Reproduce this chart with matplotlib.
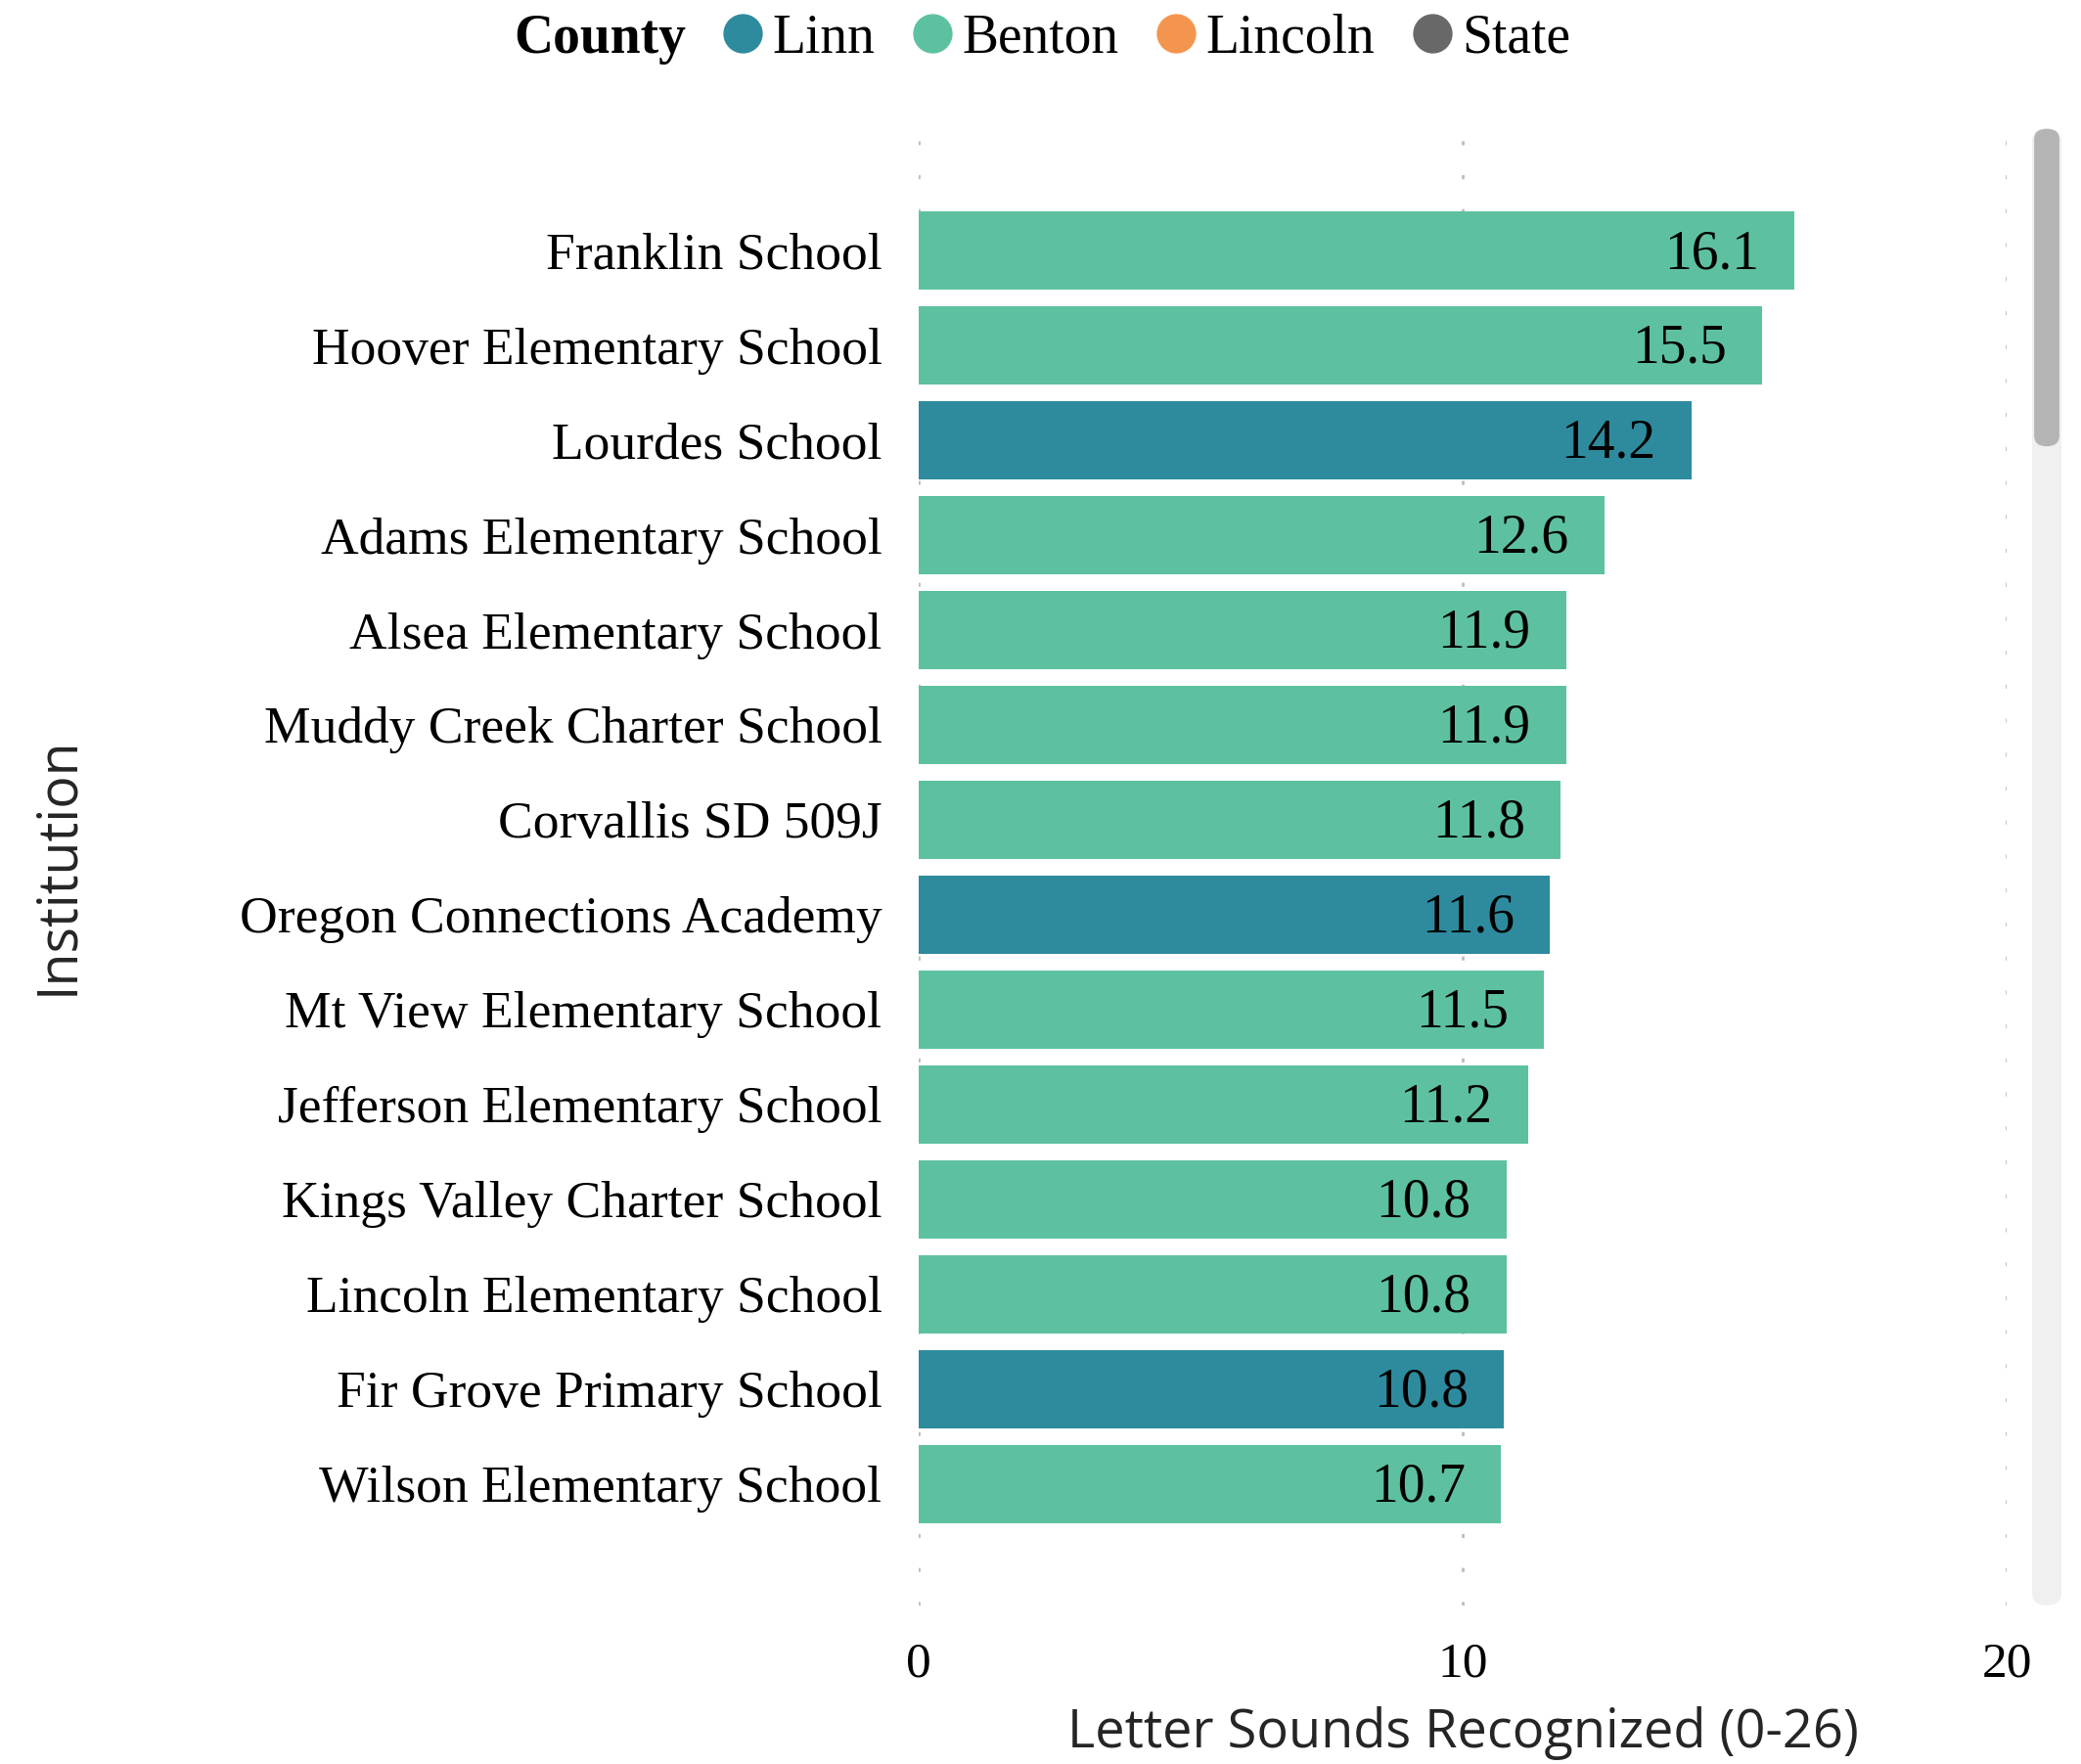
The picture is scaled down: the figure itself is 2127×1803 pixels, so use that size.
import matplotlib
matplotlib.use("Agg")
import matplotlib.pyplot as plt
from matplotlib.lines import Line2D
from matplotlib.patches import FancyBboxPatch

# Data
schools = [
    "Franklin School", "Hoover Elementary School", "Lourdes School",
    "Adams Elementary School", "Alsea Elementary School",
    "Muddy Creek Charter School", "Corvallis SD 509J",
    "Oregon Connections Academy", "Mt View Elementary School",
    "Jefferson Elementary School", "Kings Valley Charter School",
    "Lincoln Elementary School", "Fir Grove Primary School",
    "Wilson Elementary School",
]
scores = [16.1, 15.5, 14.2, 12.6, 11.9, 11.9, 11.8, 11.6, 11.5, 11.2,
          10.8, 10.8, 10.75, 10.7]
county = ["Benton", "Benton", "Linn", "Benton", "Benton", "Benton", "Benton",
          "Linn", "Benton", "Benton", "Benton", "Benton", "Linn", "Benton"]

legend_counties = ["Linn", "Benton", "Lincoln", "State"]
county_colors = {"Linn": "#2E8B9E", "Benton": "#5DC1A1",
                 "Lincoln": "#F4954F", "State": "#686868"}
x_ticks = [0, 10, 20]

SERIF = "Liberation Serif"
SANS = "Open Sans"

fig = plt.figure(figsize=(21.27, 18.03), dpi=100)
ax = fig.add_axes([0.4415, 0.0899, 0.5228, 0.8385])

y_pos = list(range(len(schools)))
colors = [county_colors[c] for c in county]
ax.barh(y_pos, scores, height=0.82, color=colors, zorder=2)

for y, v in zip(y_pos, scores):
    ax.text(v - 0.65, y + 0.04, f"{v:.1f}", ha="right", va="center",
            fontsize=40, family=SERIF, color="black", zorder=3)

ax.set_ylim(len(schools) - 1 + 1.28, -1.31)
ax.set_xlim(0, 20)
ax.set_yticks(y_pos)
ax.set_yticklabels(schools, fontsize=38.5, family=SERIF)
ax.set_xticks(x_ticks)
ax.set_xticklabels([str(t) for t in x_ticks], fontsize=37, family=SERIF)
ax.tick_params(axis="both", length=0)
ax.tick_params(axis="y", pad=27)
ax.tick_params(axis="x", pad=27)

for t in x_ticks:
    ax.axvline(t, color="#BDBDBD", linewidth=2, linestyle=(0, (1.5, 11)),
               zorder=1)

for s in ax.spines.values():
    s.set_visible(False)

ax.set_xlabel("Letter Sounds Recognized (0-26)", fontsize=39, family=SANS,
              color="#252525", labelpad=14)
ax.set_ylabel("Institution", fontsize=40, family=SANS, color="#252525")
ax.yaxis.set_label_coords(-0.765, 0.5)

# Legend across the top
handles = [Line2D([], [], linestyle="none")]
labels = ["County"]
for c in legend_counties:
    handles.append(Line2D([], [], marker="o", linestyle="none",
                          markersize=28, color=county_colors[c]))
    labels.append(c)
leg = fig.legend(handles, labels, loc="center", bbox_to_anchor=(0.489, 0.978),
                 ncol=5, frameon=False, handlelength=0.7, handletextpad=0.2,
                 columnspacing=0.7, prop={"family": SERIF, "size": 40})
leg.get_texts()[0].set_fontweight("bold")

# Scrollbar at the right edge
track = FancyBboxPatch((0.9765, 0.0899), 0.0141, 0.837,
                       boxstyle="round,pad=0,rounding_size=0.007",
                       transform=fig.transFigure, facecolor="#F0F0F0",
                       edgecolor="none")
thumb = FancyBboxPatch((0.9775, 0.747), 0.0121, 0.18,
                       boxstyle="round,pad=0,rounding_size=0.006",
                       transform=fig.transFigure, facecolor="#B4B4B4",
                       edgecolor="none")
fig.patches.extend([track, thumb])

fig.savefig("out.png", dpi=100)
